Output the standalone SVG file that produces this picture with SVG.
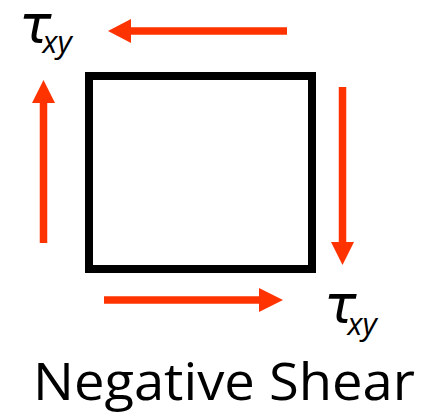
<svg xmlns="http://www.w3.org/2000/svg" width="430" height="412" viewBox="0 0 430 412">
<defs>
<style>
.shaft{stroke:#FF3300;stroke-width:7.5;fill:none}
.head{fill:#FF3300}
.tau{font-family:"DejaVu Sans",sans-serif;font-style:italic;font-size:54px;fill:#000}
.sub{font-family:"Open Sans",sans-serif;font-style:italic;font-size:31px}
.title{font-family:"Open Sans",sans-serif;font-size:51px;fill:#000}
</style>
</defs>
<rect width="430" height="412" fill="#fff"/>
<g id="element">
<rect x="89" y="76" width="223" height="193" fill="none" stroke="#000" stroke-width="8"/>
</g>
<g id="connectors">
<g id="arrow-top"><line class="shaft" x1="287" y1="31" x2="128" y2="31"/><polygon class="head" points="108,31 131,19 131,43"/></g>
<g id="arrow-right"><line class="shaft" x1="342.5" y1="87" x2="342.5" y2="244"/><polygon class="head" points="342.5,265 331,242 354,242"/></g>
<g id="arrow-left"><line class="shaft" x1="43.5" y1="243" x2="43.5" y2="101"/><polygon class="head" points="43.5,80 32,103 55,103"/></g>
<g id="arrow-bottom"><line class="shaft" x1="104" y1="300" x2="262" y2="300"/><polygon class="head" points="283,300 259,288 259,312"/></g>
</g>
<g id="label-top"><text class="tau" x="19" y="43">τ<tspan class="sub" dy="10" dx="-9">xy</tspan></text></g>
<g id="label-bottom"><text class="tau" x="324" y="323">τ<tspan class="sub" dy="12" dx="-9">xy</tspan></text></g>
<g id="title"><text class="title" x="33" y="400" textLength="382" lengthAdjust="spacingAndGlyphs">Negative Shear</text></g>
</svg>
